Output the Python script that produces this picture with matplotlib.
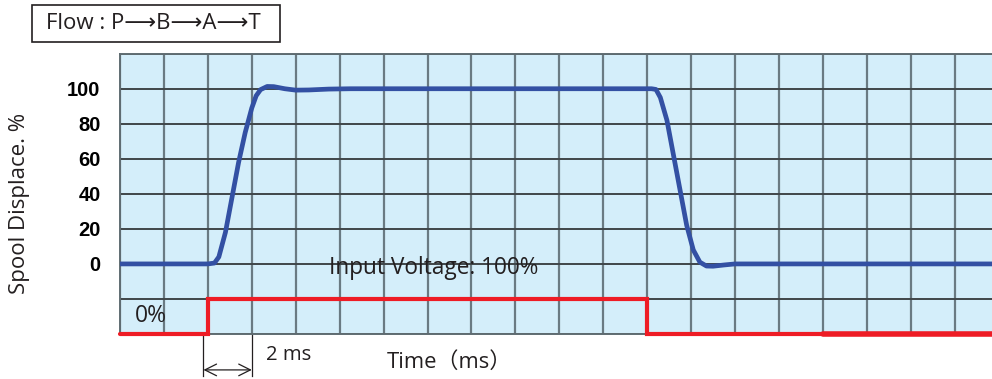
import matplotlib
matplotlib.use("Agg")
import matplotlib.pyplot as plt
from matplotlib.patches import Rectangle

# Spool response curve (time in ms, displacement in %)
t_spool = [0, 4.0, 4.3, 4.5, 4.8, 5.1, 5.4, 5.7, 6.0, 6.2, 6.4, 6.7, 7.0, 7.5, 8.0,
           8.6, 9.5, 10.5, 24.2, 24.4, 24.6, 24.9, 25.2, 25.5, 25.8, 26.1, 26.4,
           26.7, 27.0, 27.5, 28.0, 40]
spool = [0, 0, 0.5, 4, 18, 38, 58, 75, 89, 96, 99.5, 101.3, 101.2, 100, 99.2,
         99.3, 99.8, 100, 100, 99.6, 95, 82, 62, 42, 22, 8, 1,
         -1.2, -1.3, -0.6, 0, 0]

# Input voltage step, drawn below the zero line (-40 = 0%, -20 = 100%)
t_input = [0, 4, 4, 24, 24, 32]
v_input = [-40, -40, -20, -20, -40, -40]
t_input_tail = [32, 40]
v_input_tail = [-40, -40]

y_ticks = [-40, -20, 0, 20, 40, 60, 80, 100, 120]
y_labels = ["", "", "0", "20", "40", "60", "80", "100", ""]
x_ticks = list(range(0, 41, 2))

TXT = ["Open Sans", "DejaVu Sans"]
INK = "#231f20"
W, H = 992, 379

fig = plt.figure(figsize=(9.92, 3.79), dpi=100)
ax = fig.add_axes([120 / W, 45 / H, 878.6 / W, 280.3 / H])
ax.set_facecolor("#d4eefa")
ax.set_xlim(0, 40)
ax.set_ylim(-40, 120)

ax.set_xticks(x_ticks)
ax.set_yticks(y_ticks)
ax.set_yticklabels(y_labels, fontsize=14.5, fontweight="bold", family="Liberation Sans")
ax.tick_params(axis="both", length=0, pad=14)
ax.tick_params(axis="x", labelbottom=False)

ax.grid(axis="x", color="#6a7a82", linewidth=1.6)
ax.grid(axis="y", color="#3f4649", linewidth=1.4)
ax.set_axisbelow(True)
for s in ax.spines.values():
    s.set_color("#5f6c72")
    s.set_linewidth(1.4)

ax.plot(t_spool, spool, color="#3350a3", linewidth=3.4, solid_joinstyle="round",
        solid_capstyle="butt", zorder=3)
ax.plot(t_input, v_input, color="#ee1c25", linewidth=3.0, solid_joinstyle="miter",
        solid_capstyle="round", clip_on=False, zorder=4)
ax.plot(t_input_tail, v_input_tail, color="#ee1c25", linewidth=4.0,
        solid_capstyle="round", clip_on=False, zorder=4)

ax.text(14.3, -2.5, "Input Voltage: 100%", fontsize=16.3, family=TXT,
        ha="center", va="center", color=INK)
ax.text(1.4, -29.5, "0%", fontsize=16.5, family=TXT, ha="center", va="center",
        color=INK)

# 2 ms dimension mark under the axis
for xv in (3.8, 6.0):
    ax.plot([xv, xv], [-40, -64], color=INK, linewidth=0.9, clip_on=False)
ax.annotate("", xy=(3.8, -60.5), xytext=(6.0, -60.5),
            arrowprops=dict(arrowstyle="<->,head_length=0.6,head_width=0.3",
                            color=INK, lw=0.9, shrinkA=0, shrinkB=0,
                            mutation_scale=14),
            annotation_clip=False)
ax.text(6.65, -52, "2 ms", fontsize=14.6, family=TXT, ha="left", va="center",
        color=INK)
ax.text(15.0, -56, "Time（ms）", fontsize=15.8,
        family=["Open Sans", "Noto Sans CJK JP"], ha="center", va="center",
        color=INK)

fig.text(20 / W, 1 - 203 / H, "Spool Displace. %", rotation=90, fontsize=16,
         family=TXT, ha="center", va="center", color=INK)

# flow path caption in a framed box
fig.patches.append(Rectangle((32 / W, 1 - 42 / H), 248 / W, 37 / H,
                             transform=fig.transFigure, facecolor="white",
                             edgecolor=INK, linewidth=1.2))
fig.text(153 / W, 1 - 23.5 / H, "Flow : P\u27f6B\u27f6A\u27f6T", fontsize=16,
         family=TXT, ha="center", va="center", color=INK)

fig.savefig("out.png", dpi=100)
